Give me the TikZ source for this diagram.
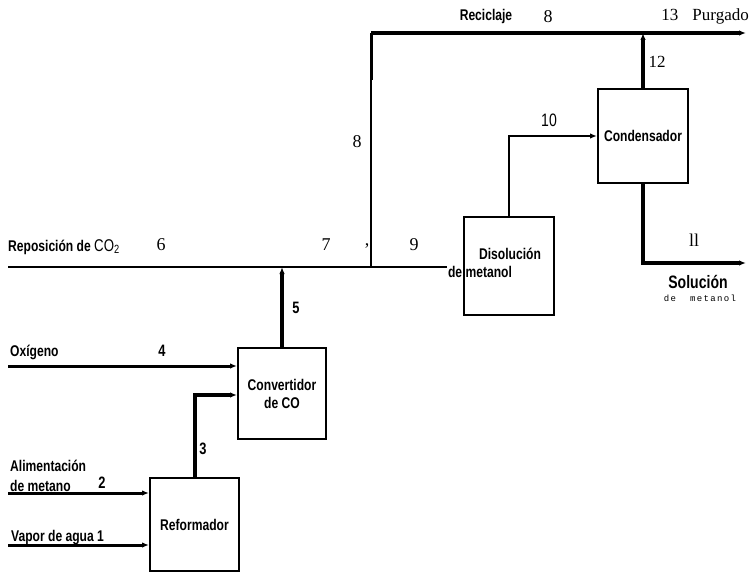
\documentclass[tikz,border=0pt]{standalone}
\usepackage{fontspec}
\setmainfont{Liberation Serif}
\newfontfamily\lbl[FakeStretch=0.78]{Liberation Sans}
\newfontfamily\monof[LetterSpace=15]{Liberation Mono}
\usetikzlibrary{arrows.meta}
\begin{document}
\begin{tikzpicture}[x=1pt,y=-1pt,
  unit/.style={draw, line width=2pt, inner sep=0pt, anchor=north west,
    font=\lbl\bfseries\fontsize{15.5}{18}\selectfont, align=center},
  sans/.style={font=\lbl\bfseries\fontsize{15.5}{18}\selectfont, inner sep=0pt},
  bignum/.style={font=\lbl\bfseries\fontsize{16.5}{18}\selectfont, inner sep=0pt},
  serifn/.style={font=\fontsize{18}{20}\selectfont, inner sep=0pt},
  thinline/.style={line width=2.2pt},
  feedline/.style={line width=3pt},
  thickline/.style={line width=4pt},
  tip/.style={-{Latex[length=7pt,width=5.5pt]}}
]
\useasboundingbox (0,0) rectangle (749,572);

% units
\node[unit, minimum width=89pt, minimum height=93pt] (ref) at (149,477) {Reformador};
\node[unit, minimum width=88pt, minimum height=91pt] (conv) at (237,347) {Convertidor\\de CO};
\node[unit, minimum width=90pt, minimum height=98pt] (dis) at (463,216) {};
\node[unit, minimum width=90pt, minimum height=94pt] (cond) at (597,88) {Condensador};

% free ends
\coordinate (m0) at (8,267);
\coordinate (m1) at (447,267);
\coordinate (r0) at (371,267);
\coordinate (r1) at (371,33);
\coordinate (p) at (746,33);
\coordinate (s) at (746,263);
\coordinate (o0) at (8,366);
\coordinate (o1) at (237,366);
\coordinate (c3) at (237,395);
\coordinate (a0) at (8,493);
\coordinate (a1) at (149,493);
\coordinate (v0) at (8,545);
\coordinate (v1) at (149,545);

% streams
\draw[thinline] (m0) -- (m1);
\draw[thinline] (r0) -- (r1);
\draw[thickline, tip, line join=round] (r1) -- (p);
\draw[line width=3pt] (r1) -- ++(0,47);
\draw[thickline, tip] (conv.north) -- (conv.north |- m0);
\draw[thickline, tip] (cond.north) -- (cond.north |- p);
\draw[thinline, tip] (dis.north) |- (cond.west);
\draw[thickline, tip] (cond.south) |- (s);
\draw[feedline, tip] (o0) -- (o1);
\draw[thickline, tip] (ref.north) |- (c3);
\draw[feedline, tip] (a0) -- (a1);
\draw[feedline, tip] (v0) -- (v1);

% labels
\node[sans] (lrec) at (486,16) {Reciclaje};
\node[serifn] (l8a) at (548,17) {8};
\node[serifn, font=\fontsize{17}{19}\selectfont, anchor=east] (lpur) at (749,16) {13\hspace{14pt}Purgado};
\node[serifn, font=\fontsize{17}{19}\selectfont] (l12) at (657,62) {12};
\node[bignum, font=\lbl\fontsize{18}{20}\selectfont] (l10) at (549,120) {10};
\node[serifn] (l8b) at (357,142) {8};
\node[sans, anchor=west] (lrep) at (8,247) {Reposición de {\mdseries\fontsize{17}{19}\selectfont CO\textsubscript{2}}};
\node[serifn] (l6) at (161,245) {6};
\node[serifn] (l7) at (326,245) {7};
\node[serifn] (lcom) at (367,246) {,};
\node[serifn] (l9) at (414,245) {9};
\node[sans] (ldis1) at (510,254) {Disolución};
\node[sans] (ldis2) at (480,272) {de metanol};
\node[serifn] (l11) at (694,240) {ll};
\node[sans, font=\lbl\bfseries\fontsize{18}{20}\selectfont] (lsol) at (698,282) {Solución};
\node[inner sep=0pt, font=\monof\fontsize{9}{11}\selectfont] (lsol2) at (700,298) {de\hspace{14pt}metanol};
\node[bignum] (l5) at (296,308) {5};
\node[sans, anchor=west] (lox) at (10,352) {Oxígeno};
\node[bignum] (l4) at (162,351) {4};
\node[bignum] (l3) at (203,449) {3};
\node[sans, anchor=west] (lali) at (10,466) {Alimentación};
\node[sans, anchor=west] (lali2) at (10,486) {de metano};
\node[bignum] (l2) at (102,483) {2};
\node[sans, anchor=west] (lvap) at (11,538) {Vapor de agua 1};
\end{tikzpicture}
\end{document}
